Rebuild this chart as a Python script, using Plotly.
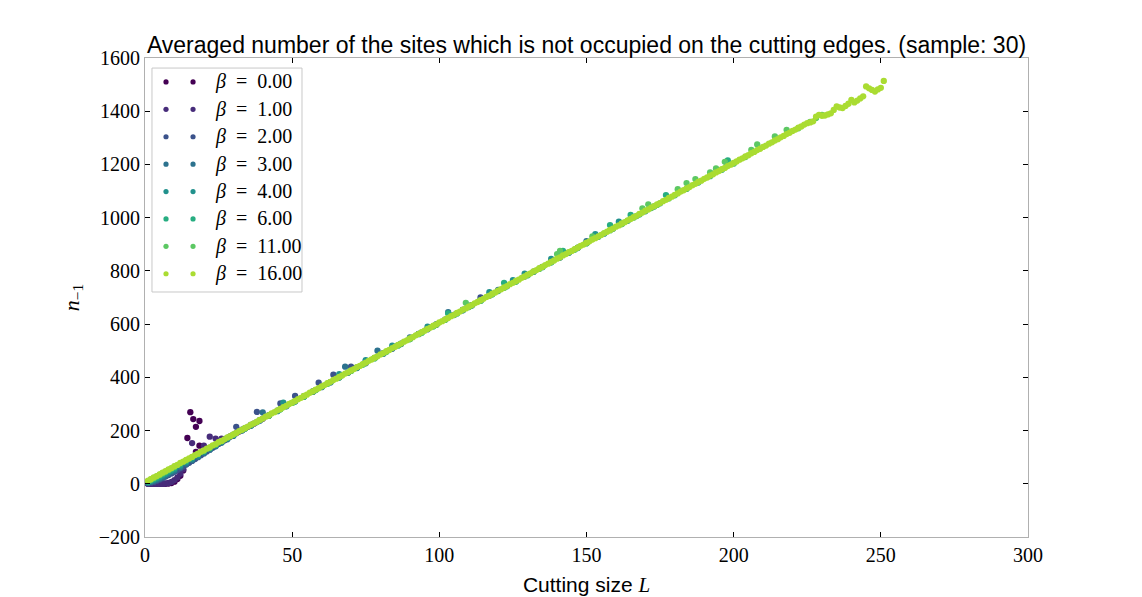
import plotly.graph_objects as go

# beta values and viridis-like colours (one per series)
betas = [0, 1, 2, 3, 4, 6, 11, 16]
colors = ["#440154", "#472c7a", "#3b528b", "#2c728e",
          "#21918c", "#27ad81", "#5cc863", "#aadc32"]

# cutting size L and averaged n_{-1} for every beta
L_b0 = [1, 2, 3, 4, 5, 6, 7, 8, 9, 10, 11, 12, 13, 14.4, 15.4, 16.4, 17.3, 17.3, 18.5, 18.5]
n_b0 = [0, 0, 0, 0, 0, 0, 0, 1, 3, 8, 18, 30, 50, 172, 269, 243, 214, 120, 236, 143]

L_b1 = list(range(1, 41))
n_b1 = [0, 0, 0, 0, 0, 0, 1, 3, 7, 14,
        24, 38, 55, 74, 88, 153, 100, 108, 116, 143,
        128, 177, 138, 170, 150, 170, 164, 172, 178, 184,
        190, 196, 202, 208, 214, 220, 226, 232, 238, 244]

L_b2 = [1, 2, 3, 4, 5, 6, 7, 8, 9, 10, 11, 12, 13, 14, 15, 16, 17, 18, 19, 20,
        21, 22, 23, 24, 25, 26, 27, 28, 29, 30,
        31, 33, 36, 38, 39, 42, 45, 46, 48, 51, 54, 57, 59, 60, 64, 66, 70, 72, 75, 78,
        81, 84, 87, 90, 93, 96, 99, 102, 105, 108, 111, 114]
n_b2 = [2, 4, 7, 11, 16, 21, 27, 33, 39, 45, 52, 58, 65, 72, 79, 86, 93, 100, 107, 114,
        121, 128, 135, 142, 150, 157, 164, 171, 178, 184,
        214, 203, 221, 270, 239, 257, 275, 302, 293, 330, 329, 347, 380, 365, 410, 401, 440, 437, 462, 473,
        491, 509, 527, 545, 563, 581, 599, 617, 635, 653, 671, 700]

L_b3 = [1, 2, 3, 4, 5, 6, 7, 8, 9, 10, 12, 14, 16, 18, 20, 22, 24, 26, 28, 30,
        33, 36, 40, 42, 45, 48, 51, 54, 57, 60, 63, 66, 68, 69, 72, 75, 79, 81, 84, 87,
        90, 93, 96, 99, 103, 105, 108, 111, 114, 117, 120, 123, 126, 129, 132, 135, 138, 141, 144, 147,
        150]
n_b3 = [4, 7, 11, 15, 20, 25, 31, 37, 43, 49, 62, 75, 88, 101, 115, 128, 141, 154, 167, 180,
        200, 218, 268, 255, 273, 291, 309, 327, 345, 363, 381, 399, 440, 417, 435, 453, 500, 489, 507, 525,
        550, 563, 581, 599, 645, 635, 653, 671, 689, 707, 729, 743, 761, 779, 797, 815, 833, 851, 869, 887,
        912]

L_b4 = [1, 2, 3, 4, 5, 6, 7, 8, 9, 10, 12, 14, 16, 18, 20, 22, 24, 26, 28, 30,
        33, 36, 39, 42, 45, 47, 48, 51, 54, 57, 60, 63, 66, 69, 72, 75, 78, 81, 84, 87,
        90, 93, 96, 99, 102, 105, 108, 111, 114, 117, 120, 123, 125, 129, 132, 135, 138, 141, 144, 147,
        150, 153, 156, 159, 161, 164, 167, 170, 173, 175]
n_b4 = [6, 10, 15, 20, 25, 31, 37, 43, 49, 55, 68, 81, 94, 107, 120, 133, 146, 159, 172, 184,
        202, 220, 238, 256, 274, 305, 292, 310, 328, 346, 364, 382, 412, 418, 436, 465, 472, 490, 519, 526,
        544, 562, 590, 598, 616, 634, 652, 670, 688, 720, 724, 742, 765, 790, 796, 814, 845, 850, 868, 886,
        904, 938, 940, 958, 985, 988, 1006, 1024, 1042, 1054]

L_b6 = [1, 2, 3, 4, 5, 6, 7, 8, 9, 10, 12, 14, 16, 18, 20, 22, 24, 26, 28, 30,
        34, 38, 42, 46, 50, 54, 58, 62, 66, 70, 74, 78, 82, 86, 90, 94, 98, 103, 106, 110,
        114, 118, 122, 126, 130, 134, 138, 142, 146, 150, 154, 158, 162, 165, 168, 172, 177, 180, 184, 188,
        192, 196, 198, 200]
n_b6 = [8, 13, 18, 24, 30, 36, 42, 48, 54, 60, 73, 86, 99, 111, 123, 135, 147, 160, 172, 184,
        208, 232, 256, 280, 304, 328, 352, 376, 400, 424, 448, 472, 496, 520, 544, 568, 592, 640, 640, 664,
        688, 712, 755, 760, 784, 808, 832, 875, 880, 904, 928, 972, 976, 1010, 1012, 1036, 1085, 1084, 1108, 1132,
        1156, 1180, 1215, 1204]

L_b11 = [1, 2, 3, 4, 5, 6, 7, 8, 9, 10, 14, 18, 22, 26, 30, 34, 38, 42, 46, 50,
         54, 58, 62, 66, 70, 74, 78, 82, 86, 90, 94, 98, 102, 106, 109, 110, 114, 118, 122, 126,
         130, 134, 138, 140, 141, 146, 150, 152, 154, 158, 162, 166, 169, 171, 174, 178, 181, 184, 187, 192,
         194, 197, 200, 204, 206, 208, 214, 218, 222, 226, 228, 230]
n_b11 = [10, 16, 22, 28, 34, 40, 46, 52, 58, 64, 88, 112, 136, 160, 184, 208, 232, 256, 280, 304,
         328, 352, 376, 400, 424, 448, 472, 496, 520, 544, 568, 592, 616, 640, 680, 664, 688, 712, 736, 760,
         784, 808, 832, 863, 875, 880, 904, 930, 928, 952, 976, 1000, 1035, 1050, 1048, 1072, 1107, 1130, 1145, 1170,
         1185, 1210, 1204, 1228, 1255, 1275, 1305, 1330, 1336, 1360, 1375, 1386]

L_b16 = list(range(1, 252))
n_b16 = [12, 17, 24, 29, 35, 42, 47, 54, 59, 66,
         71, 78, 83, 90, 95, 101, 108, 113, 120, 125,
         132, 137, 144, 149, 156, 161, 167, 174, 179, 186,
         191, 198, 203, 210, 215, 222, 227, 233, 240, 245,
         252, 257, 264, 269, 276, 281, 288, 293, 300, 305,
         311, 318, 323, 330, 335, 342, 347, 354, 359, 366,
         371, 378, 383, 390, 395, 402, 407, 414, 419, 426,
         431, 438, 443, 450, 455, 462, 467, 474, 479, 486,
         491, 498, 503, 510, 515, 522, 527, 534, 539, 546,
         551, 558, 563, 570, 575, 582, 587, 594, 599, 606,
         611, 618, 623, 630, 635, 642, 647, 654, 659, 666,
         671, 678, 683, 690, 695, 702, 707, 714, 719, 726,
         731, 738, 743, 750, 755, 762, 767, 774, 779, 786,
         791, 798, 803, 810, 815, 822, 827, 834, 839, 846,
         851, 858, 863, 870, 875, 882, 887, 894, 899, 906,
         911, 918, 923, 930, 935, 942, 947, 954, 959, 966,
         971, 978, 983, 990, 995, 1002, 1007, 1014, 1019, 1026,
         1031, 1038, 1043, 1050, 1055, 1062, 1067, 1074, 1079, 1086,
         1091, 1098, 1103, 1110, 1115, 1122, 1127, 1134, 1139, 1146,
         1151, 1158, 1163, 1170, 1175, 1182, 1187, 1194, 1199, 1206,
         1211, 1218, 1223, 1230, 1235, 1242, 1247, 1254, 1259, 1266,
         1271, 1278, 1283, 1290, 1295, 1302, 1307, 1314, 1319, 1326,
         1331, 1338, 1343, 1350, 1355, 1358, 1362, 1380, 1386, 1383,
         1384, 1388, 1392, 1405, 1418, 1414, 1412, 1420, 1428, 1443,
         1433, 1440, 1448, 1456, 1493, 1486, 1480, 1474, 1482, 1488,
         1514]

series_L = [L_b0, L_b1, L_b2, L_b3, L_b4, L_b6, L_b11, L_b16]
series_n = [n_b0, n_b1, n_b2, n_b3, n_b4, n_b6, n_b11, n_b16]

x_ticks = [0, 50, 100, 150, 200, 250, 300]
y_ticks = [-200, 0, 200, 400, 600, 800, 1000, 1200, 1400, 1600]
y_tick_text = ["\u2212200", "0", "200", "400", "600", "800", "1000", "1200", "1400", "1600"]

SERIF = "Liberation Serif, DejaVu Serif, serif"
SANS = "Liberation Sans, Arial, sans-serif"

fig = go.Figure()

for beta, color, xs, ys in zip(betas, colors, series_L, series_n):
    fig.add_trace(
        go.Scatter(
            x=xs,
            y=ys,
            mode="markers",
            name=f"beta = {beta:.2f}",
            marker=dict(color=color, size=6.3, line=dict(width=0)),
            showlegend=False,
        )
    )

# hand-made legend in matplotlib style (two dots per entry, framed box)
shapes = [
    dict(type="rect", xref="paper", yref="paper",
         x0=0.0079, x1=0.1778, y0=0.5115, y1=0.979,
         line=dict(color="#c8c8c8", width=1), fillcolor="white", layer="above")
]
annotations = []
for i, (beta, color) in enumerate(zip(betas, colors)):
    yy = 0.950 - i * 0.0572
    for xx in (0.0238, 0.0544):
        shapes.append(dict(type="circle", xref="paper", yref="paper",
                           xsizemode="pixel", ysizemode="pixel",
                           xanchor=xx, yanchor=yy,
                           x0=-2.6, x1=2.6, y0=-2.6, y1=2.6,
                           fillcolor=color, line=dict(width=0), layer="above"))
    annotations.append(dict(xref="paper", yref="paper", x=0.077, y=yy,
                            xanchor="left", yanchor="middle", showarrow=False,
                            text=f"<i>β</i>\u2002=\u2002{beta:.2f}",
                            font=dict(family=SERIF, size=20, color="black")))

axis_common = dict(
    showgrid=False,
    zeroline=False,
    showline=True,
    linecolor="#b0b0b0",
    linewidth=1,
    mirror="ticks",
    ticks="inside",
    ticklen=5,
    tickwidth=1,
    tickcolor="black",
    tickfont=dict(family=SERIF, size=20, color="black"),
)

fig.update_xaxes(
    range=[0, 300],
    tickvals=x_ticks,
    ticktext=[str(t) for t in x_ticks],
    title=dict(text="Cutting size <span style='font-family:Liberation Serif'><i>L</i></span>",
               font=dict(family=SANS, size=21, color="black"), standoff=12),
    **axis_common,
)
fig.update_yaxes(
    range=[-200, 1600],
    tickvals=y_ticks,
    ticktext=y_tick_text,
    title=dict(text="<i>n</i><sub>\u22121</sub>",
               font=dict(family=SERIF, size=22, color="black"), standoff=13),
    **axis_common,
)

# the page adds 8 px of body margin, so the margins are trimmed by that much
fig.update_layout(
    width=1142,
    height=597,
    margin=dict(l=137, r=122, t=50, b=68),
    paper_bgcolor="white",
    plot_bgcolor="white",
    showlegend=False,
    title=dict(
        text="Averaged number of the sites which is not occupied on the cutting edges. (sample: 30)",
        font=dict(family=SANS, size=23, color="black"),
        xref="paper", x=0.5, xanchor="center",
        yref="container", y=1 - 37 / 597, yanchor="middle",
    ),
    shapes=shapes,
    annotations=annotations,
)

fig.write_html("out.html")
